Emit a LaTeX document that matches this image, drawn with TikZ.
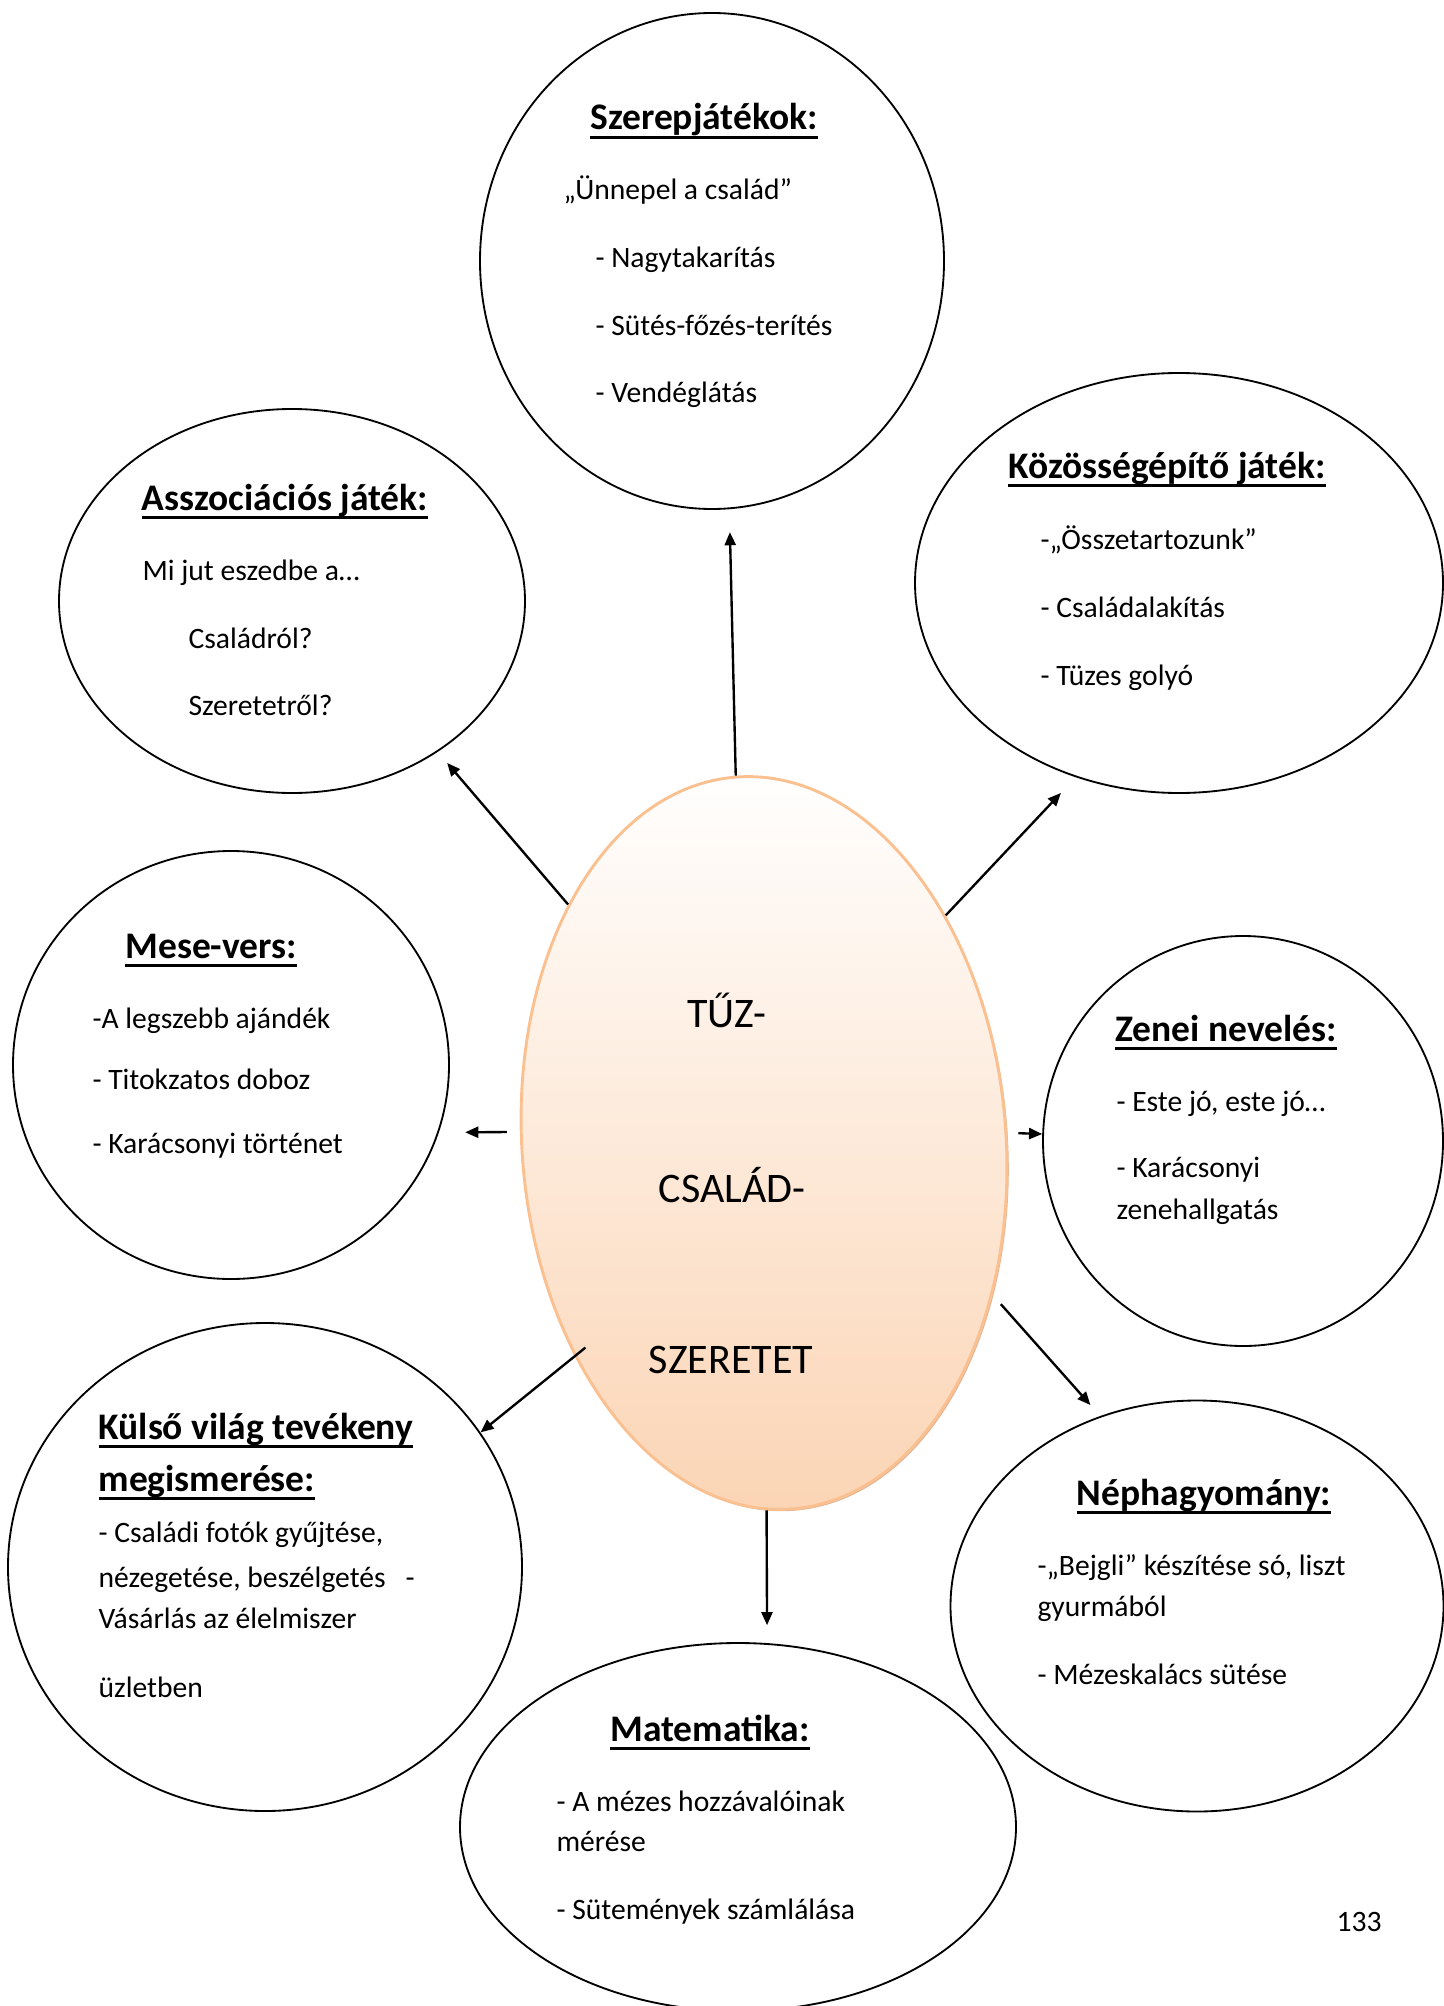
\documentclass[tikz,border=0pt]{standalone}
\usepackage{fontspec}
\setmainfont{Carlito}
\usetikzlibrary{shapes.geometric,arrows.meta,shadows}
\definecolor{eggline}{HTML}{FAC090}
\definecolor{eggfill}{HTML}{FBD4B4}
\definecolor{eggshadow}{HTML}{D9A47E}
\def\titul#1{\setbox0\hbox{#1}\rlap{\rule[-3.4pt]{\wd0}{1.1pt}}\box0}
\tikzset{
	bubble/.style 2 args={ellipse, draw, line width=0.7pt, inner sep=0pt, minimum width=#1*0.38pt, minimum height=#2*0.38pt},
	title/.style={font=\fontsize{14.25}{17}\selectfont\bfseries, anchor=base, inner sep=0pt},
	item/.style={font=\fontsize{11.25}{13}\selectfont, anchor=base west, inner sep=0pt},
	eggtext/.style={font=\fontsize{16}{19}\selectfont, anchor=base, inner sep=0pt},
	arr/.style={-{Triangle[length=5pt,width=4.2pt]}, line width=0.9pt}
}

\begin{document}
\begin{tikzpicture}[x=0.38pt, y=-0.38pt]
			%%%%% START %%%%%
			\useasboundingbox (0,0) rectangle (1443,2006);
			
			\node[ellipse, draw=eggline, line width=1.1pt, top color=white, bottom color=eggfill, inner sep=0pt, minimum width=484*0.38pt, minimum height=734*0.38pt, rotate=4.4, drop shadow={shadow xshift=0.7pt, shadow yshift=-0.7pt, fill=eggshadow, opacity=0.8}] (egg) at (764,1143) {};
			\node[eggtext] (tuz) at (727,1027) {TŰZ-};
			\node[eggtext] (csalad) at (732,1202) {CSALÁD-};
			\node[eggtext] (szeretet) at (731,1373) {SZERETET};
			
			\node[bubble={464}{496}] (szerep) at (712,261) {};
			\node[bubble={466}{384}] (assz) at (292,601) {};
			\node[bubble={528}{420}] (kozos) at (1179,583) {};
			\node[bubble={436}{428}] (mese) at (231,1065) {};
			\node[bubble={400}{410}] (zenei) at (1243,1141) {};
			\node[bubble={514}{488}] (kulso) at (265,1567) {};
			\node[bubble={493}{411}] (neph) at (1197,1606) {};
			\node[bubble={556}{368}] (mat) at (738,1827) {};
			
			\draw[arr, shorten >=8.7pt] (egg.north) -- (szerep.-86);
			\draw[arr, shorten >=5.5pt] (egg.125) -- (assz.-46);
			\draw[arr, shorten >=8.2pt] (egg.47) -- (kozos.-118);
			\draw[arr, shorten <=4.9pt, shorten >=10pt] (egg.173) -- (mese.-18);
			\draw[arr, shorten <=4.2pt] (egg.-2) -- (zenei.178);
			\draw[arr, shorten <=4.7pt, shorten >=5.6pt] (egg.-38) -- (neph.117);
			\draw[arr, shorten <=-5.3pt] (egg.224) -- (kulso.32);
			\draw[arr, shorten >=6.8pt] (egg.-94) -- (mat.81);
			
			\node[title] (szerep-t) at (704,130) {\titul{Szerepjátékok:}};
			\node[item] (szerep-1) at (563,200) {„Ünnepel a család”};
			\node[item] (szerep-2) at (595,268) {- Nagytakarítás};
			\node[item] (szerep-3) at (595,335) {- Sütés-főzés-terítés};
			\node[item] (szerep-4) at (595,402) {- Vendéglátás};
			
			\node[title] (assz-t) at (285,510) {\titul{Asszociációs játék:}};
			\node[item] (assz-1) at (142,580) {Mi jut eszedbe a…};
			\node[item] (assz-2) at (188,648) {Családról?};
			\node[item] (assz-3) at (188,715) {Szeretetről?};
			
			\node[title] (kozos-t) at (1167,478) {\titul{Közösségépítő játék:}};
			\node[item] (kozos-1) at (1040,549) {-„Összetartozunk”};
			\node[item] (kozos-2) at (1040,617) {- Családalakítás};
			\node[item] (kozos-3) at (1040,685) {- Tüzes golyó};
			
			\node[title] (mese-t) at (211,958) {\titul{Mese-vers:}};
			\node[item] (mese-1) at (92,1028) {-A legszebb ajándék};
			\node[item] (mese-2) at (92,1089) {- Titokzatos doboz};
			\node[item] (mese-3) at (92,1153) {- Karácsonyi történet};
			
			\node[title] (zenei-t) at (1226,1041) {\titul{Zenei nevelés:}};
			\node[item] (zenei-1) at (1116,1111) {- Este jó, este jó…};
			\node[item] (zenei-2) at (1116,1177) {- Karácsonyi};
			\node[item] (zenei-3) at (1116,1219) {zenehallgatás};
			
			\node[title, anchor=base west] (kulso-t1) at (98,1439) {\titul{Külső világ tevékeny}};
			\node[title, anchor=base west] (kulso-t2) at (98,1491) {\titul{megismerése:}};
			\node[item] (kulso-1) at (98,1542) {- Családi fotók gyűjtése,};
			\node[item] (kulso-2) at (98,1587) {nézegetése, beszélgetés~~~-};
			\node[item] (kulso-3) at (98,1628) {Vásárlás az élelmiszer};
			\node[item] (kulso-4) at (98,1697) {üzletben};
			
			\node[title] (neph-t) at (1204,1505) {\titul{Néphagyomány:}};
			\node[item] (neph-1) at (1037,1575) {-„Bejgli” készítése só, liszt};
			\node[item] (neph-2) at (1037,1616) {gyurmából};
			\node[item] (neph-3) at (1037,1684) {- Mézeskalács sütése};
			
			\node[title] (mat-t) at (710,1741) {\titul{Matematika:}};
			\node[item] (mat-1) at (556,1811) {- A mézes hozzávalóinak};
			\node[item] (mat-2) at (556,1851) {mérése};
			\node[item] (mat-3) at (556,1919) {- Sütemények számlálása};
			
			\node[item, anchor=base] (oldal) at (1359,1931) {133};
			
			%%%%% END %%%%%
\end{tikzpicture}
\end{document}
